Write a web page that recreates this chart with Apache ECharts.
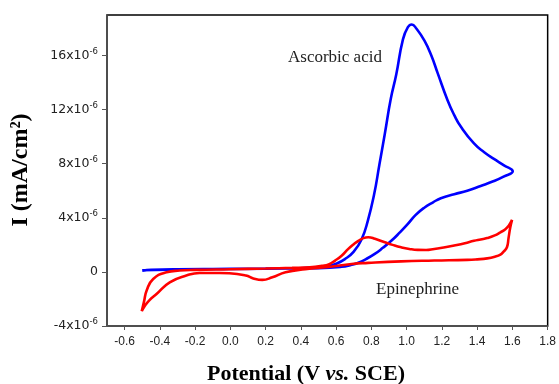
<!DOCTYPE html>
<html>
<head>
<meta charset="utf-8">
<script src="https://cdn.jsdelivr.net/npm/echarts@6/dist/echarts.min.js"></script>
<style>
  html, body { margin: 0; padding: 0; background: #fff; }
  #chart { width: 559px; height: 384px; }
</style>
</head>
<body>
<div id="chart"></div>
<script>
// potential (V vs SCE) and current (x10^-6)
const ascorbicV = [-0.5, -0.45, -0.3, 0, 0.3, 0.45, 0.55, 0.6, 0.65, 0.7, 0.744, 0.78, 0.815, 0.845, 0.876, 0.91, 0.941, 0.979, 1.007, 1.029, 1.055, 1.101, 1.14, 1.176, 1.232, 1.27, 1.307, 1.382, 1.44, 1.495, 1.55, 1.602,
  1.55, 1.495, 1.42, 1.344, 1.27, 1.194, 1.15, 1.1, 1.05, 1.007, 0.96, 0.913, 0.865, 0.819, 0.77, 0.726, 0.68, 0.631, 0.5, 0.2, -0.2, -0.5];
const ascorbicI = [0.08, 0.15, 0.2, 0.22, 0.25, 0.3, 0.42, 0.6, 0.95, 1.5, 2.4, 3.8, 5.7, 7.9, 10.2, 12.8, 14.6, 17.2, 18.1, 18.3, 18.0, 17.1, 16.0, 14.7, 12.7, 11.6, 10.75, 9.5, 8.85, 8.36, 7.9, 7.44,
  7.05, 6.72, 6.35, 6.0, 5.75, 5.45, 5.15, 4.75, 4.2, 3.55, 2.9, 2.3, 1.78, 1.33, 0.95, 0.68, 0.5, 0.38, 0.28, 0.24, 0.2, 0.12];

const epiV = [-0.503, -0.49, -0.475, -0.438, -0.362, -0.288, -0.2, 0, 0.2, 0.35, 0.45, 0.52, 0.557, 0.594, 0.631, 0.669, 0.7, 0.726, 0.755, 0.782, 0.82, 0.876, 0.92, 0.969, 1.015, 1.063, 1.11, 1.157, 1.21, 1.27, 1.33, 1.382, 1.42, 1.457, 1.5, 1.532, 1.56, 1.579, 1.598,
  1.588, 1.578, 1.569, 1.55, 1.532, 1.5, 1.457, 1.4, 1.344, 1.157, 0.969, 0.782, 0.688, 0.557, 0.425, 0.313, 0.238, 0.181, 0.13, 0.088, -0.006, -0.062, -0.175, -0.25, -0.344, -0.419, -0.46, -0.484, -0.503];
const epiI = [-2.91, -2.2, -1.38, -0.52, -0.03, 0.1, 0.15, 0.2, 0.25, 0.3, 0.35, 0.45, 0.55, 0.84, 1.2, 1.7, 2.05, 2.3, 2.5, 2.56, 2.45, 2.19, 2.0, 1.82, 1.7, 1.63, 1.62, 1.7, 1.8, 1.95, 2.12, 2.3, 2.4, 2.5, 2.7, 2.93, 3.15, 3.42, 3.85,
  3.3, 2.5, 1.82, 1.5, 1.28, 1.12, 1.0, 0.93, 0.89, 0.84, 0.78, 0.67, 0.59, 0.36, 0.2, -0.03, -0.4, -0.59, -0.48, -0.27, -0.1, -0.08, -0.08, -0.27, -0.77, -1.63, -2.1, -2.49, -2.91];

const xTicks = [-0.6, -0.4, -0.2, 0, 0.2, 0.4, 0.6, 0.8, 1.0, 1.2, 1.4, 1.6, 1.8];
const yTicks = [-4, 0, 4, 8, 12, 16];

const toPairs = (xs, ys) => xs.map((x, i) => [x, ys[i]]);

const myChart = echarts.init(document.getElementById('chart'));
myChart.setOption({
  backgroundColor: '#fff',
  animation: false,
  grid: {
    left: 107, right: 9, top: 15, bottom: 58,
    show: true, borderColor: '#000', borderWidth: 1.5
  },
  xAxis: {
    type: 'value',
    min: -0.7, max: 1.8,
    splitLine: { show: false },
    axisLine: { onZero: false, lineStyle: { color: '#555', width: 1.5 } },
    axisTick: { show: true, length: 4, customValues: xTicks, lineStyle: { color: '#555' } },
    axisLabel: {
      customValues: xTicks,
      margin: 10,
      color: '#222', fontFamily: 'Liberation Sans, Arial', fontSize: 12,
      formatter: v => v.toFixed(1)
    }
  },
  yAxis: {
    type: 'value',
    min: -4, max: 19,
    splitLine: { show: false },
    axisLine: { onZero: false, lineStyle: { color: '#555', width: 1.5 } },
    axisTick: { show: true, length: 5, customValues: yTicks, lineStyle: { color: '#555' } },
    axisLabel: {
      customValues: yTicks,
      margin: 9,
      color: '#222', fontFamily: 'DejaVu Sans', fontSize: 12.5,
      formatter: v => v === 0 ? '0' : '{a|' + v + 'x10}{s|-6}',
      rich: {
        a: { fontSize: 12.5, color: '#222', fontFamily: 'DejaVu Sans' },
        s: { fontSize: 8.5, color: '#222', fontFamily: 'DejaVu Sans', padding: [0, 0, 8, 0] }
      }
    }
  },
  graphic: [
    {
      type: 'text', left: 288, top: 49,
      style: { text: 'Ascorbic acid', font: '17px "Liberation Serif", serif', fill: '#222' }
    },
    {
      type: 'text', left: 376, top: 281,
      style: { text: 'Epinephrine', font: '17px "Liberation Serif", serif', fill: '#222' }
    },
    {
      type: 'text', x: 21, y: 170, rotation: Math.PI / 2,
      style: {
        text: 'I (mA/cm²)', font: 'bold 24px "Liberation Serif", serif', fill: '#000',
        align: 'center', verticalAlign: 'middle'
      }
    },
    {
      type: 'text', x: 306, y: 374,
      style: {
        text: '{b|Potential (V }{i|vs.}{b| SCE)}',
        align: 'center', verticalAlign: 'middle',
        rich: {
          b: { font: 'bold 22px "Liberation Serif", serif', fill: '#000' },
          i: { font: 'italic bold 22px "Liberation Serif", serif', fill: '#000' }
        }
      }
    }
  ],
  series: [
    {
      type: 'line', name: 'Ascorbic acid',
      data: toPairs(ascorbicV, ascorbicI),
      showSymbol: false, smooth: 0.5,
      lineStyle: { color: '#0000ff', width: 2.6 }
    },
    {
      type: 'line', name: 'Epinephrine',
      data: toPairs(epiV, epiI),
      showSymbol: false, smooth: 0.5,
      lineStyle: { color: '#ff0000', width: 2.6 }
    }
  ]
});
</script>
</body>
</html>
